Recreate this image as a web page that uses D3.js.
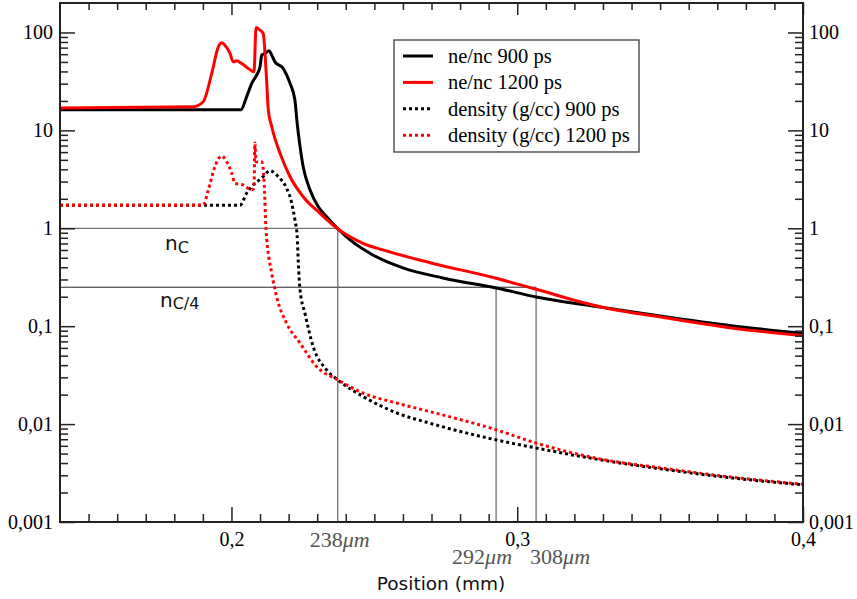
<!DOCTYPE html>
<html><head><meta charset="utf-8">
<script src="https://cdn.jsdelivr.net/npm/d3@7"></script>
<style>body{margin:0;background:#fff}svg{display:block}</style>
</head><body>
<svg id="c" width="857" height="599"></svg>
<script>
// ---- data ----
const ne900X  = [0.14,0.2033,0.2053,0.2071,0.2088,0.2100,0.2106,0.2117,0.2132,0.2141,0.2152,0.2181,0.2205,0.2222,0.2230,0.2237,0.2251,0.2275,0.2304,0.2333,0.2374,0.2415,0.2495,0.2600,0.2740,0.2926,0.3066,0.3290,0.3524,0.3755,0.40];
const ne900Y  = [16.2,16.2,22.0,30.2,36.7,44.6,58.7,61.1,64.9,58.7,50.1,42.9,30.2,20.4,11.8,7.96,4.25,2.46,1.66,1.31,0.977,0.76,0.534,0.394,0.311,0.246,0.199,0.157,0.124,0.1007,0.0845];
const ne1200X = [0.14,0.1866,0.1901,0.1931,0.1954,0.1966,0.1977,0.1995,0.2006,0.2018,0.2036,0.2059,0.2079,0.2086,0.2100,0.2111,0.2121,0.2129,0.2141,0.2170,0.2205,0.2251,0.2310,0.2374,0.2460,0.2530,0.2695,0.2926,0.3066,0.3290,0.3524,0.3755,0.40];
const ne1200Y = [16.9,17.4,19.6,38.2,71.3,78.3,74.2,61.1,50.1,51.3,48.3,42.9,39.6,112.5,105.5,97.7,41.2,16.1,10.9,5.83,3.36,2.10,1.42,0.977,0.703,0.601,0.445,0.309,0.238,0.158,0.121,0.0954,0.0805];
const rho900X  = [0.14,0.2030,0.2053,0.2076,0.2105,0.2135,0.2164,0.2193,0.2211,0.2222,0.2230,0.2234,0.2240,0.2257,0.2286,0.2333,0.2372,0.2461,0.2578,0.2695,0.2926,0.3066,0.3290,0.3524,0.3755,0.40];
const rho900Y  = [1.72,1.72,2.28,2.77,3.24,3.87,3.36,2.56,1.80,1.22,0.821,0.440,0.235,0.136,0.0619,0.0358,0.0283,0.0191,0.0130,0.0102,0.0069,0.0057,0.00432,0.00342,0.00281,0.0024];
const rho1200X = [0.14,0.1901,0.1919,0.1942,0.1966,0.1983,0.2001,0.2012,0.2041,0.2071,0.2079,0.2082,0.2086,0.2106,0.2114,0.2121,0.2141,0.2158,0.2193,0.2240,0.2298,0.2372,0.2461,0.2578,0.2695,0.2926,0.3066,0.3290,0.3524,0.3755,0.40];
const rho1200Y = [1.72,1.72,2.46,4.25,5.47,4.78,3.64,2.88,2.77,2.46,2.58,7.42,4.78,4.78,3.11,0.96,0.347,0.200,0.107,0.0671,0.0387,0.0283,0.0207,0.0164,0.0134,0.00875,0.0064,0.0044,0.0035,0.00286,0.00243];

const seriesNames = ["ne/nc 900 ps","ne/nc 1200 ps","density (g/cc) 900 ps","density (g/cc) 1200 ps"];
const xMajor = [0.2,0.3,0.4];
const xMajorLabels = ["0,2","0,3","0,4"];
const yMajor = [0.001,0.01,0.1,1,10,100];
const yMajorLabels = ["0,001","0,01","0,1","1","10","100"];
const critX = [0.2372, 0.2926, 0.3066];   // annotation verticals
const critLabels = ["238", "292", "308"];
const critLevels = [1, 0.25];            // nc and nc/4

// ---- layout ----
const svg = d3.select("#c");
const L=60, R=803, T=3, B=522;
const x = d3.scaleLinear().domain([0.14,0.4]).range([L,R]);
const y = d3.scaleLog().domain([0.001,200]).range([B,T]);

const xMinor = d3.range(15,40).map(v=>v/100).filter(v=>!xMajor.some(m=>Math.abs(m-v)<1e-9));
const yMinor = [];
yMajor.forEach(d=>{ for(let k=2;k<=9;k++){ const v=d*k; if(v<200) yMinor.push(v);} });

const serif = "'Liberation Serif','Times New Roman',serif";
const sans = "'DejaVu Sans',sans-serif";

function styleAxis(g){
  g.select(".domain").remove();
  g.selectAll("line").attr("stroke","#222").attr("stroke-width",1.5);
  g.selectAll("text").attr("font-family",serif).attr("font-size","20px").attr("fill","#000");
}
const fmtX = d=>xMajorLabels[xMajor.indexOf(d)];
const fmtY = d=>yMajorLabels[yMajor.indexOf(d)];

// annotation lines
const ann = svg.append("g");
ann.append("line").attr("x1",L).attr("x2",x(critX[0])).attr("y1",y(critLevels[0])).attr("y2",y(critLevels[0])).attr("stroke","#777").attr("stroke-width",1.3);
ann.append("line").attr("x1",L).attr("x2",x(critX[2])).attr("y1",y(critLevels[1])).attr("y2",y(critLevels[1])).attr("stroke","#222").attr("stroke-width",1);
ann.append("line").attr("x1",x(critX[0])).attr("x2",x(critX[0])).attr("y1",y(critLevels[0])).attr("y2",B).attr("stroke","#666").attr("stroke-width",1.2);
ann.append("line").attr("x1",x(critX[1])).attr("x2",x(critX[1])).attr("y1",y(critLevels[1])).attr("y2",B).attr("stroke","#666").attr("stroke-width",1.2);
ann.append("line").attr("x1",x(critX[2])).attr("x2",x(critX[2])).attr("y1",y(critLevels[1])).attr("y2",B).attr("stroke","#666").attr("stroke-width",1.2);

// curves
svg.append("clipPath").attr("id","clip").append("rect").attr("x",L).attr("y",T).attr("width",R-L).attr("height",B-T);
const line = d3.line().x(d=>x(d[0])).y(d=>y(d[1])).curve(d3.curveMonotoneX);
const series = [
  {xs:rho900X, ys:rho900Y, color:"#000", dash:"3,3"},
  {xs:rho1200X, ys:rho1200Y, color:"#ff0000", dash:"3,3"},
  {xs:ne900X, ys:ne900Y, color:"#000", dash:null},
  {xs:ne1200X, ys:ne1200Y, color:"#ff0000", dash:null},
];
const cg = svg.append("g").attr("clip-path","url(#clip)");
series.forEach(s=>{
  cg.append("path").datum(s.xs.map((v,i)=>[v,s.ys[i]]))
    .attr("d",line).attr("fill","none").attr("stroke",s.color).attr("stroke-width",3)
    .attr("stroke-linejoin","round")
    .attr("stroke-dasharray",s.dash);
});

// axes
svg.append("g").attr("transform",`translate(0,${B})`).call(d3.axisBottom(x).tickValues(xMajor).tickSize(-15).tickPadding(10).tickFormat(fmtX)).call(styleAxis);
svg.append("g").attr("transform",`translate(0,${B})`).call(d3.axisBottom(x).tickValues(xMinor).tickSize(-8).tickFormat("")).call(styleAxis);
svg.append("g").attr("transform",`translate(0,${T})`).call(d3.axisTop(x).tickValues(xMajor).tickSize(-12).tickFormat("")).call(styleAxis);
svg.append("g").attr("transform",`translate(0,${T})`).call(d3.axisTop(x).tickValues(xMinor).tickSize(-7).tickFormat("")).call(styleAxis);
svg.append("g").attr("transform",`translate(${L},0)`).call(d3.axisLeft(y).tickValues(yMajor).tickSize(-15).tickPadding(7).tickFormat(fmtY)).call(styleAxis);
svg.append("g").attr("transform",`translate(${L},0)`).call(d3.axisLeft(y).tickValues(yMinor).tickSize(-8).tickFormat("")).call(styleAxis);
svg.append("g").attr("transform",`translate(${R},0)`).call(d3.axisRight(y).tickValues(yMajor).tickSize(-15).tickPadding(6).tickFormat(fmtY)).call(styleAxis);
svg.append("g").attr("transform",`translate(${R},0)`).call(d3.axisRight(y).tickValues(yMinor).tickSize(-8).tickFormat("")).call(styleAxis);

// frame
svg.append("rect").attr("x",L).attr("y",T).attr("width",R-L).attr("height",B-T).attr("fill","none").attr("stroke","#222").attr("stroke-width",2);

// nc labels
const nc1 = svg.append("text").attr("x",165).attr("y",250).attr("font-family",sans).attr("font-size","20px").attr("fill","#111");
nc1.append("tspan").text("n");
nc1.append("tspan").attr("dy",3).attr("font-size","16px").text("C");
const nc2 = svg.append("text").attr("x",160).attr("y",307).attr("font-family",sans).attr("font-size","20px").attr("fill","#111");
nc2.append("tspan").text("n");
nc2.append("tspan").attr("dy",2).attr("font-size","16px").text("C/4");

// micron labels
const mPos = [[x(critX[0])+2,547],[x(critX[1])-14,564],[x(critX[2])+24,564]];
critLabels.forEach((lab,i)=>{
  const t = svg.append("text").attr("x",mPos[i][0]).attr("y",mPos[i][1]).attr("text-anchor","middle")
    .attr("font-family",serif).attr("font-size","22px").attr("fill","#555");
  t.append("tspan").text(lab);
  t.append("tspan").attr("font-style","italic").text("\u03bcm");
});

// x title
svg.append("text").attr("x",441).attr("y",590).attr("text-anchor","middle").attr("font-family",sans).attr("font-size","18.5px").attr("fill","#111").text("Position (mm)");

// legend
const lg = svg.append("g");
lg.append("rect").attr("x",394).attr("y",40).attr("width",245).attr("height",112).attr("fill","#fff").attr("stroke","#555").attr("stroke-width",1.5);
const legStyles = [{c:"#000",d:null},{c:"#ff0000",d:null},{c:"#000",d:"3,3"},{c:"#ff0000",d:"3,3"}];
seriesNames.forEach((nm,i)=>{
  const yy = 56 + i*26.4;
  lg.append("line").attr("x1",403).attr("x2",433).attr("y1",yy).attr("y2",yy).attr("stroke",legStyles[i].c).attr("stroke-width",3).attr("stroke-dasharray",legStyles[i].d);
  lg.append("text").attr("x",448).attr("y",yy).attr("dy","0.33em").attr("font-family",serif).attr("font-size","20.5px").attr("fill","#000").text(nm);
});
</script>
</body></html>
